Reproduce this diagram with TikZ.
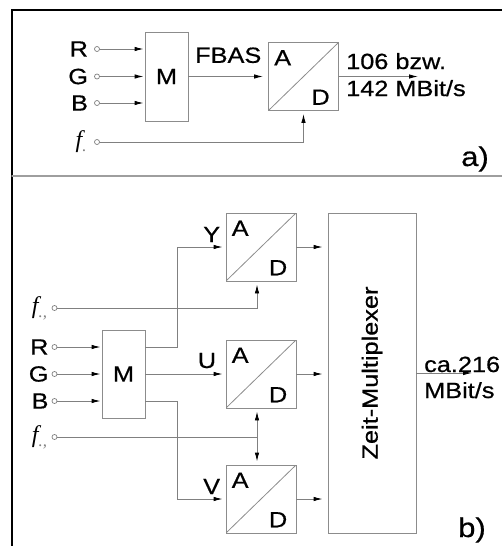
\documentclass[tikz,border=0pt]{standalone}
\usepackage{fontspec}
\setmainfont{Liberation Sans}[FakeStretch=1.15, FakeBold=0.6]
\newfontfamily\ftimes{Liberation Serif}
\usetikzlibrary{positioning,arrows.meta}
\definecolor{linegray}{gray}{0.5}
\definecolor{boxgray}{gray}{0.55}
\definecolor{sepgray}{gray}{0.62}
\tikzset{
  lbl/.style={font=\fontsize{22}{25}\selectfont, inner sep=1pt},
  big/.style={font=\fontsize{27}{30}\selectfont, inner sep=0pt},
  flbl/.style={font=\fontsize{24}{26}\ftimes\itshape, inner sep=0pt},
  box/.style={draw=boxgray, line width=0.9pt, lbl},
  adc/.style={box, minimum width=70pt, minimum height=68pt,
    path picture={\draw[boxgray, line width=0.8pt] (path picture bounding box.south west) -- (path picture bounding box.north east);}},
  jack/.style={circle, draw=linegray, fill=white, line width=0.7pt, inner sep=0pt, minimum size=5pt},
  conn/.style={draw=linegray, line width=0.9pt, shorten >=3pt, -{Latex[length=9pt,width=4.5pt,color=black]}},
  wire/.style={draw=linegray, line width=0.9pt}
}
\begin{document}
\begin{tikzpicture}[x=1pt,y=-1pt,line cap=round]
  \useasboundingbox (0,0) rectangle (502,546);
  \draw[line width=1.8pt] (12,546) -- (12,10) -- (502,10);
  \draw[sepgray, line width=1.4pt] (12,176) -- (502,176);

  % a)
  \node[box, minimum width=43pt, minimum height=89pt] (Ma) at (166.5,76.5) {M};
  \node[adc] (ADa) at (303.5,76.5) {};
  \node[jack] (Ra) at (97,49) {};
  \node[jack] (Ga) at (97,76.5) {};
  \node[jack] (Ba) at (97,103) {};
  \node[jack] (Fa) at (97,142) {};
  \node[lbl, left=5pt of Ra] {R};
  \node[lbl, left=5pt of Ga] {G};
  \node[lbl, left=5pt of Ba] {B};
  \node[flbl, left=7pt of Fa] {f\textsubscript{\color{gray}.}};
  \draw[conn, shorten >=1pt] (Ra) -- (Ma.west |- Ra);
  \draw[conn, shorten >=1pt] (Ga) -- (Ma.west |- Ga);
  \draw[conn, shorten >=1pt] (Ba) -- (Ma.west |- Ba);
  \draw[conn, shorten >=5pt] (Ma) -- node[lbl, above=12pt] {FBAS} (ADa);
  \coordinate (OUTa) at (418,76.5);
  \draw[conn, shorten >=0pt] (ADa) -- (OUTa);
  \node[lbl, anchor=base west] at (345,69) {106 bzw.};
  \node[lbl, anchor=base west] at (345,96) {142 MBit/s};
  \draw[conn] (Fa) -| (ADa.south);
  \node[big, anchor=base west] at (461,166) {a)};

  % b)
  \node[box, minimum width=43pt, minimum height=88pt] (Mb) at (123.5,374) {M};
  \node[adc] (ADy) at (261,247) {};
  \node[adc] (ADu) at (261,374) {};
  \node[adc] (ADv) at (261,499) {};
  \node[box, minimum width=88pt, minimum height=320pt] (Mux) at (372,373) {\rotatebox{90}{Zeit-Multiplexer}};
  \node[jack] (F1) at (54.5,308) {};
  \node[jack] (Rb) at (54.5,347) {};
  \node[jack] (Gb) at (54.5,374) {};
  \node[jack] (Bb) at (54.5,401) {};
  \node[jack] (F2) at (54.5,437) {};
  \node[lbl, left=2pt of Rb] {R};
  \node[lbl, left=2pt of Gb] {G};
  \node[lbl, left=2pt of Bb] {B};
  \node[flbl, left=4pt of F1] {f\textsubscript{\color{gray}.,}};
  \node[flbl, left=4pt of F2] {f\textsubscript{\color{gray}.,}};
  \draw[conn, shorten >=1pt] (Rb) -- (Mb.west |- Rb);
  \draw[conn, shorten >=1pt] (Gb) -- (Mb.west |- Gb);
  \draw[conn, shorten >=1pt] (Bb) -- (Mb.west |- Bb);
  \draw[conn] ([yshift=27pt]Mb.east) -- ++(32,0) |- (ADy.west)
    node[lbl, pos=1, anchor=base east, xshift=-4pt, yshift=5pt] {Y};
  \draw[conn] (Mb) -- (ADu) node[lbl, pos=1, anchor=base east, xshift=-8pt, yshift=6pt] {U};
  \draw[conn] ([yshift=-27pt]Mb.east) -- ++(32,0) |- (ADv.west)
    node[lbl, pos=1, anchor=base east, xshift=-4pt, yshift=5pt] {V};
  \draw[conn] (F1) -| ([xshift=-4pt]ADy.south);
  \coordinate (J) at (257,437);
  \draw[wire] (F2) -- (J);
  \draw[conn] (J) -- ([xshift=-4pt]ADu.south);
  \draw[conn] (J) -- ([xshift=-4pt]ADv.north);
  \draw[conn, shorten >=5pt] (ADy) -- (Mux.west |- ADy);
  \draw[conn, shorten >=5pt] (ADu) -- (Mux.west |- ADu);
  \draw[conn, shorten >=5pt] (ADv) -- (Mux.west |- ADv);
  \coordinate (OUTb) at (472,373);
  \draw[conn, shorten >=0pt] (Mux) -- (OUTb);
  \node[lbl, anchor=base west] at (423,372) {ca.216};
  \node[lbl, anchor=base west] at (423,398) {MBit/s};
  \node[big, anchor=base west] at (458,537) {b)};

  \foreach \n in {ADa,ADy,ADu,ADv}{
    \node[lbl, inner sep=0pt, anchor=north west] at ([xshift=6pt,yshift=-8pt]\n.north west) {A};
    \node[lbl, inner sep=0pt, anchor=south east] at ([xshift=-9pt,yshift=6pt]\n.south east) {D};
  }
\end{tikzpicture}
\end{document}
